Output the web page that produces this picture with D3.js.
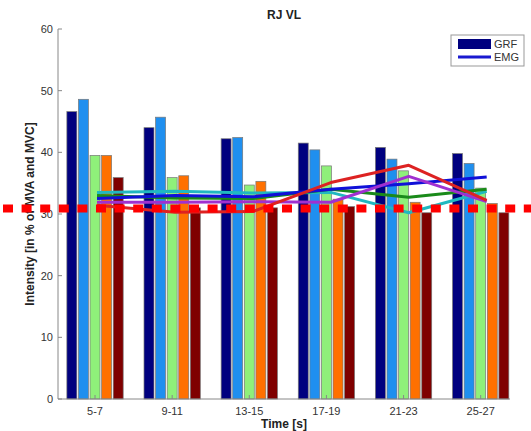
<!DOCTYPE html>
<html><head><meta charset="utf-8">
<script src="https://cdn.jsdelivr.net/npm/d3@7"></script>
<style>body{margin:0;background:#fff;}svg{display:block;font-family:"Liberation Sans",Arial,sans-serif;}</style>
</head><body>
<svg id="c" width="531" height="431"></svg>
<script>
const categories = ["5-7","9-11","13-15","17-19","21-23","25-27"];
const grfNavy    = [46.6, 44.0, 42.2, 41.5, 40.8, 39.8];
const grfBlue    = [48.6, 45.7, 42.4, 40.4, 38.9, 38.2];
const grfGreen   = [39.5, 35.9, 34.7, 37.8, 37.0, 34.2];
const grfOrange  = [39.5, 36.2, 35.3, 32.4, 31.9, 31.7];
const grfDarkRed = [35.9, 31.0, 31.0, 31.2, 30.2, 30.2];
const emgTeal    = [33.5, 33.7, 33.4, 33.5, 30.2, 33.7];
const emgGreen   = [33.0, 32.6, 32.5, 34.0, 32.7, 34.0];
const emgBlue    = [32.5, 33.0, 32.8, 34.0, 34.9, 36.0];
const emgPurple  = [31.9, 31.9, 32.0, 31.9, 36.1, 32.0];
const emgRed     = [31.4, 30.3, 30.4, 35.1, 37.9, 32.2];
const yTicks = [0,10,20,30,40,50,60];
const thresholdValue = 30.9;

const barSeries = [grfNavy, grfBlue, grfGreen, grfOrange, grfDarkRed];
const barColors = ["#00007f","#1f8fef","#8ff07a","#ff7000","#7f0000"];
const lineSeries = [emgTeal, emgGreen, emgBlue, emgPurple, emgRed];
const lineColors = ["#20b8c0","#1a8a1a","#1010d8","#a030d0","#dd2222"];

const svg = d3.select("#c");
const L = 58, R = 510, T = 29, B = 399;
const x = d3.scaleLinear().domain([0.52, 6.38]).range([L, R]);
const y = d3.scaleLinear().domain([0, 60]).range([B, T]);

// bars
const inner = d3.scaleBand().domain(d3.range(barSeries.length)).range([-0.365, 0.365]).paddingInner(0.14);
barSeries.forEach((s, si) => {
  svg.append("g").selectAll("rect").data(s).join("rect")
    .attr("x", (d,i) => x(i + 1 + inner(si)))
    .attr("width", x(inner.bandwidth()) - x(0))
    .attr("y", d => y(d))
    .attr("height", d => y(0) - y(d))
    .attr("fill", barColors[si])
    .attr("stroke", "#777")
    .attr("stroke-width", 0.7);
});

// EMG lines
const xl = d3.scaleLinear().domain([1, 6]).range([x(1) + 2, x(6) + 6]);
const line = d3.line().x((d,i) => xl(i + 1)).y(d => y(d));
lineSeries.forEach((s, si) => {
  svg.append("path").attr("d", line(s)).attr("fill", "none")
    .attr("stroke", lineColors[si]).attr("stroke-width", 3).attr("stroke-linejoin", "round");
});

// axes
const axG = svg.append("g").attr("font-size", 11).attr("fill", "#333");
axG.append("line").attr("x1", L).attr("x2", L).attr("y1", T).attr("y2", B).attr("stroke", "#888");
axG.append("line").attr("x1", L).attr("x2", R).attr("y1", B).attr("y2", B).attr("stroke", "#888");
yTicks.forEach(t => {
  axG.append("line").attr("x1", L).attr("x2", L + 4).attr("y1", y(t)).attr("y2", y(t)).attr("stroke", "#888");
  axG.append("text").attr("x", L - 5).attr("y", y(t) + 4).attr("text-anchor", "end").text(t);
});
categories.forEach((c, i) => {
  axG.append("line").attr("x1", x(i+1)).attr("x2", x(i+1)).attr("y1", B).attr("y2", B - 4).attr("stroke", "#888");
  axG.append("text").attr("x", x(i+1)).attr("y", B + 16).attr("text-anchor", "middle").text(c);
});

// titles
svg.append("text").attr("x", (L+R)/2).attr("y", 19).attr("text-anchor", "middle")
  .attr("font-size", 12).attr("font-weight", "bold").attr("fill", "#222").text("RJ VL");
svg.append("text").attr("x", (L+R)/2).attr("y", 428).attr("text-anchor", "middle")
  .attr("font-size", 12).attr("font-weight", "bold").attr("fill", "#222").text("Time [s]");
svg.append("text").attr("transform", `translate(34,${(T+B)/2}) rotate(-90)`).attr("text-anchor", "middle")
  .attr("font-size", 12).attr("font-weight", "bold").attr("fill", "#222").text("Intensity [in % of MVA and MVC]");

// legend
const lg = svg.append("g");
lg.append("rect").attr("x", 451).attr("y", 35).attr("width", 73).attr("height", 31)
  .attr("fill", "#fff").attr("stroke", "#999");
lg.append("rect").attr("x", 458).attr("y", 39).attr("width", 33).attr("height", 10).attr("fill", barColors[0]);
lg.append("line").attr("x1", 458).attr("x2", 491).attr("y1", 57).attr("y2", 57).attr("stroke", "#1a1ad0").attr("stroke-width", 3);
lg.append("text").attr("x", 494).attr("y", 48).attr("font-size", 11).attr("fill", "#333").text("GRF");
lg.append("text").attr("x", 494).attr("y", 61).attr("font-size", 11).attr("fill", "#333").text("EMG");

// threshold dashed line
svg.append("line").attr("x1", 3).attr("x2", 531).attr("y1", y(thresholdValue)).attr("y2", y(thresholdValue))
  .attr("stroke", "#ff0000").attr("stroke-width", 8).attr("stroke-dasharray", "10,8.6");
</script>
</body></html>
